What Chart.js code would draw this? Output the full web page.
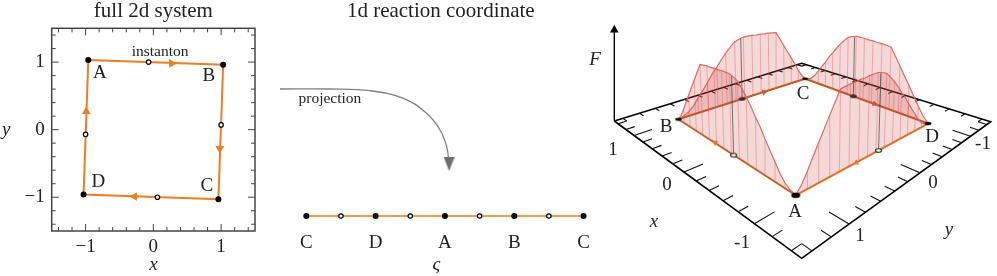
<!DOCTYPE html>
<html>
<head>
<meta charset="utf-8">
<title>Instanton projection</title>
<style>
  html, body { margin: 0; padding: 0; background: #fff; }
  canvas { position: absolute; top: 0; }
</style>
<script src="https://cdn.jsdelivr.net/npm/chart.js@4"></script>
</head>
<body>
<canvas id="fullSystem" width="270" height="276" style="left:0"></canvas>
<canvas id="reaction" width="340" height="276" style="left:270px"></canvas>
<canvas id="surface" width="417" height="276" style="left:580px"></canvas>
<script>
// Stationary points of the 2d system, in order along the instanton
const cornerNames = ['A', 'B', 'C', 'D'];
const cornerX = [-0.96, 1.03, 0.96, -1.03];
const cornerY = [1.03, 0.96, -1.03, -0.96];

// Saddle points (open circles)
const saddleX = [-0.07, 1.0, 0.06, -1.0];
const saddleY = [1.0, 0.07, -1.0, -0.07];

// Direction arrows on the path
const arrowX = [0.27, 0.98, -0.28, -0.99];
const arrowY = [0.98, -0.28, -0.99, 0.27];
const arrowAngle = [90, 180, 270, 0];

// Axis ticks
const majorTicks = [-1, 0, 1];
const minorTicks = [-1.4, -1.2, -0.8, -0.6, -0.4, -0.2, 0.2, 0.4, 0.6, 0.8, 1.2, 1.4];

// 1d reaction coordinate
const reactionLabels = ['C', 'D', 'A', 'B', 'C'];
const reactionStates = [0, 2, 4, 6, 8];
const reactionSaddles = [1, 3, 5, 7];

// Projection arrow (coordinate, height above the line)
const projectionS = [-0.76, 0.68, 1.84, 2.8, 3.47, 3.86, 4.05, 4.12];
const projectionH = [127, 127, 125.3, 117.7, 102.7, 86, 69.3, 52];

// Free energy barrier along one edge of the path
const barrierT = [0, 0.033, 0.067, 0.1, 0.133, 0.167, 0.2, 0.233, 0.267, 0.3, 0.333, 0.367, 0.4, 0.433, 0.467, 0.5,
  0.533, 0.567, 0.6, 0.633, 0.667, 0.7, 0.733, 0.767, 0.8, 0.833, 0.867, 0.9, 0.933, 0.967, 1];
const barrierF = [0, 0.02, 0.06, 0.13, 0.23, 0.33, 0.43, 0.54, 0.63, 0.73, 0.82, 0.9, 0.97, 1.0, 1.02, 1.02,
  1.02, 1.01, 1.01, 1.0, 1.0, 0.99, 0.98, 0.85, 0.72, 0.59, 0.46, 0.33, 0.2, 0.08, 0];

const ORANGE = '#f37b20';
const SERIF = '"Liberation Serif", serif';
Chart.defaults.font.family = SERIF;
Chart.defaults.color = '#222';

const baseOptions = {
  responsive: false,
  animation: false,
  events: [],
  plugins: { legend: { display: false }, tooltip: { enabled: false } }
};

// Text placed in data coordinates of the chart's own scales
function textPlugin(items) {
  return {
    id: 'textMarks',
    afterDatasetsDraw(chart) {
      const ctx = chart.ctx;
      ctx.save();
      ctx.textAlign = 'center';
      ctx.textBaseline = 'middle';
      ctx.fillStyle = '#222';
      items.forEach(item => {
        ctx.font = (item.italic ? 'italic ' : '') + item.size + 'px ' + SERIF;
        ctx.fillText(item.text, chart.scales.x.getPixelForValue(item.x), chart.scales.y.getPixelForValue(item.y));
      });
      ctx.restore();
    }
  };
}

// Frame with inward ticks on all four sides
const framePlugin = {
  id: 'frame',
  afterDatasetsDraw(chart) {
    const { ctx, chartArea: a, scales } = chart;
    ctx.save();
    ctx.strokeStyle = '#444';
    ctx.lineWidth = 1;
    const drawTicks = (values, len) => {
      values.forEach(v => {
        const px = scales.x.getPixelForValue(v);
        const py = scales.y.getPixelForValue(v);
        ctx.beginPath();
        ctx.moveTo(px, a.bottom); ctx.lineTo(px, a.bottom - len);
        ctx.moveTo(px, a.top); ctx.lineTo(px, a.top + len);
        ctx.moveTo(a.left, py); ctx.lineTo(a.left + len, py);
        ctx.moveTo(a.right, py); ctx.lineTo(a.right - len, py);
        ctx.stroke();
      });
    };
    drawTicks(minorTicks, 4);
    drawTicks(majorTicks, 7);
    ctx.lineWidth = 1.5;
    ctx.strokeRect(a.left, a.top, a.right - a.left, a.bottom - a.top);
    ctx.restore();
  }
};

function fixTicks(scale) {
  scale.ticks = majorTicks.map(v => ({ value: v }));
}

function pairs(xs, ys) {
  return xs.map((x, i) => ({ x: x, y: ys[i] }));
}

// Left panel: full 2d system
new Chart(document.getElementById('fullSystem'), {
  type: 'scatter',
  data: {
    datasets: [
      { data: pairs(cornerX, cornerY), order: 1, pointRadius: 3, pointBackgroundColor: '#000', pointBorderWidth: 0 },
      { data: pairs(saddleX, saddleY), order: 2, pointRadius: 2.2, pointBackgroundColor: '#fff', pointBorderColor: '#000', pointBorderWidth: 1.2 },
      { data: pairs(arrowX, arrowY), order: 3, pointStyle: 'triangle', pointRadius: 5, pointRotation: arrowAngle, pointBackgroundColor: ORANGE, pointBorderWidth: 0 },
      { data: pairs(cornerX.concat(cornerX[0]), cornerY.concat(cornerY[0])), order: 4, showLine: true, borderColor: ORANGE, borderWidth: 2, pointRadius: 0 }
    ]
  },
  options: {
    ...baseOptions,
    layout: { autoPadding: false, padding: { top: 28.3, right: 15 } },
    scales: {
      x: {
        min: -1.5, max: 1.5,
        grid: { display: false, drawTicks: false },
        border: { display: false },
        afterBuildTicks: fixTicks,
        afterFit(scale) { scale.height = 45; },
        ticks: { autoSkip: false, maxRotation: 0, padding: 5, font: { size: 19 }, color: '#222', callback: v => String(v).replace('-', '\u2212') },
        title: { display: true, text: 'x', font: { size: 19, style: 'italic' }, color: '#222', padding: 0 }
      },
      y: {
        min: -1.5, max: 1.5,
        grid: { display: false, drawTicks: false },
        border: { display: false },
        afterBuildTicks: fixTicks,
        afterFit(scale) { scale.width = 51.7; },
        ticks: { autoSkip: false, padding: 7, font: { size: 19 }, color: '#222', callback: v => String(v).replace('-', '\u2212') }
      }
    }
  },
  plugins: [framePlugin, textPlugin([
    { text: 'full 2d system', x: 0, y: 1.756, size: 21 },
    { text: cornerNames[0], x: -0.79, y: 0.84, size: 19 },
    { text: cornerNames[1], x: 0.82, y: 0.79, size: 19 },
    { text: cornerNames[2], x: 0.79, y: -0.84, size: 19 },
    { text: cornerNames[3], x: -0.81, y: -0.77, size: 19 },
    { text: 'instanton', x: 0.1, y: 1.15, size: 15.5 },
    { text: 'y', x: -2.17, y: 0, size: 19, italic: true }
  ])]
});

// Middle panel: 1d reaction coordinate
function arrowHeadSprite(width, height, fill) {
  const c = document.createElement('canvas');
  c.width = width;
  c.height = height;
  const g = c.getContext('2d');
  g.beginPath();
  g.moveTo(0, 0);
  g.lineTo(width, 0);
  g.lineTo(width / 2, height);
  g.closePath();
  g.fillStyle = fill;
  g.fill();
  return c;
}

new Chart(document.getElementById('reaction'), {
  type: 'scatter',
  data: {
    datasets: [
      { data: reactionStates.map(s => ({ x: s, y: 0 })), order: 1, pointRadius: 3, pointBackgroundColor: '#000', pointBorderWidth: 0 },
      { data: reactionSaddles.map(s => ({ x: s, y: 0 })), order: 2, pointRadius: 2.2, pointBackgroundColor: '#fff', pointBorderColor: '#000', pointBorderWidth: 1.2 },
      { data: reactionStates.map(s => ({ x: s, y: 0 })), order: 3, showLine: true, borderColor: '#f89a4c', borderWidth: 2, pointRadius: 0 },
      { data: pairs(projectionS, projectionH).slice(-1), order: 4, pointStyle: arrowHeadSprite(11, 14, '#6e6e6e') },
      { data: pairs(projectionS, projectionH), order: 5, showLine: true, tension: 0.4, borderColor: '#808080', borderWidth: 1.3, pointRadius: 0 }
    ]
  },
  options: {
    ...baseOptions,
    layout: { autoPadding: false, padding: { top: 28, left: 1.66, right: 9.1 } },
    scales: {
      x: {
        min: -1, max: 8.5,
        grid: { display: false, drawTicks: false },
        border: { display: false },
        afterBuildTicks(scale) { scale.ticks = reactionStates.map(v => ({ value: v })); },
        afterFit(scale) { scale.height = 48; scale.paddingLeft = 0; scale.paddingRight = 0; },
        ticks: { autoSkip: false, maxRotation: 0, padding: 4, font: { size: 19 }, color: '#222', callback: v => reactionLabels[reactionStates.indexOf(v)] },
        title: { display: true, text: '\u03C2', font: { size: 19, style: 'italic' }, color: '#222', padding: 0 }
      },
      y: { min: -12, max: 188, display: false }
    }
  },
  plugins: [textPlugin([
    { text: '1d reaction coordinate', x: 3.88, y: 205, size: 21 },
    { text: 'projection', x: 0.68, y: 117, size: 15.5 }
  ])]
});

// Right panel: free energy surface over the floor, seen in perspective
const floorQuad = [[614.3, 121], [801.7, 258.3], [990.7, 121.7], [801.7, 63.3]];

function buildHomography(q) {
  const dx1 = q[1][0] - q[2][0], dx2 = q[3][0] - q[2][0], sx = q[0][0] - q[1][0] + q[2][0] - q[3][0];
  const dy1 = q[1][1] - q[2][1], dy2 = q[3][1] - q[2][1], sy = q[0][1] - q[1][1] + q[2][1] - q[3][1];
  const det = dx1 * dy2 - dx2 * dy1;
  const g = (sx * dy2 - dx2 * sy) / det;
  const h = (dx1 * sy - sx * dy1) / det;
  return {
    a: q[1][0] - q[0][0] + g * q[1][0], b: q[3][0] - q[0][0] + h * q[3][0], c: q[0][0],
    d: q[1][1] - q[0][1] + g * q[1][1], e: q[3][1] - q[0][1] + h * q[3][1], f: q[0][1],
    g: g, h: h
  };
}
const H = buildHomography(floorQuad);

function project(x, y, F) {
  const s = (1.5 - x) / 3, t = (1.5 - y) / 3;
  const w = H.g * s + H.h * t + 1;
  const u = (H.a * s + H.b * t + H.c) / w;
  const v = (H.d * s + H.e * t + H.f) / w;
  const rise = (F || 0) * (60 + (v - 98.7) / 3);
  return { x: u + (u - 802) * rise / 2567, y: v - rise };
}

function ellipseSprite(rx, ry, fill) {
  const c = document.createElement('canvas');
  c.width = Math.ceil(2 * rx + 3);
  c.height = Math.ceil(2 * ry + 3);
  const g = c.getContext('2d');
  g.beginPath();
  g.ellipse(c.width / 2, c.height / 2, rx, ry, 0, 0, Math.PI * 2);
  g.fillStyle = fill;
  g.fill();
  if (fill !== '#000') {
    g.strokeStyle = '#222';
    g.lineWidth = 1.1;
    g.stroke();
  }
  return c;
}

const gap = { x: NaN, y: NaN };
const surfaceSets = [];
function addSet(set) { surfaceSets.push({ showLine: true, pointRadius: 0, borderWidth: 1, ...set }); }

// floor frame and ticks
const framePts = [project(1.5, 1.5), project(-1.5, 1.5), project(-1.5, -1.5), project(1.5, -1.5), project(1.5, 1.5)];
const tickPts = [];
function pushTick(a, b) { tickPts.push(a, b, gap); }
majorTicks.concat(minorTicks).forEach(v => {
  const near = majorTicks.includes(v) ? 0.2 : 0.1;
  pushTick(project(v, 1.5), project(v, 1.5 - near));
  pushTick(project(-1.5, v), project(-1.5 + near, v));
  pushTick(project(v, -1.5), project(v, -1.4));
  pushTick(project(1.5, v), project(1.4, v));
});
addSet({ data: framePts, borderColor: '#000', borderWidth: 1.6 });
addSet({ data: tickPts, borderColor: '#111', borderWidth: 1.1 });

// instanton path on the floor, darker on the far edges
const edgeColors = ['#c9641c', '#c0601e', '#c0601e', '#e0761f'];
cornerX.forEach((x, i) => {
  const j = (i + 1) % 4;
  addSet({ data: [project(x, cornerY[i]), project(cornerX[j], cornerY[j])], borderColor: edgeColors[i], borderWidth: 2 });
});

// arrows on the floor path, turned along the edge
const floorArrows = pairs(arrowX, arrowY).map(p => project(p.x, p.y));
const arrowTurn = cornerX.map((x, i) => {
  const from = project(x, cornerY[i]);
  const to = project(cornerX[(i + 1) % 4], cornerY[(i + 1) % 4]);
  return Math.atan2(to.x - from.x, from.y - to.y) * 180 / Math.PI;
});
surfaceSets.push({ data: floorArrows, pointStyle: 'triangle', pointRadius: 3.5, pointRotation: arrowTurn, pointBackgroundColor: ['#f37b20', '#c8641e', '#c8641e', '#f37b20'], pointBorderWidth: 0 });

// one barrier curtain per edge, far edges first
[1, 2, 0, 3].forEach(i => {
  const j = (i + 1) % 4;
  const onEdge = t => [cornerX[i] + (cornerX[j] - cornerX[i]) * t, cornerY[i] + (cornerY[j] - cornerY[i]) * t];
  const top = barrierT.map((t, k) => project(...onEdge(t), barrierF[k]));
  const base = barrierT.map(t => project(...onEdge(t)));
  const stripes = [];
  barrierT.forEach((t, k) => {
    if (k % 2 === 0 && k > 0 && k < barrierT.length - 1) stripes.push(base[k], top[k], gap);
  });
  addSet({ data: top.concat(base.slice().reverse()), fill: 'shape', backgroundColor: 'rgba(205, 60, 60, 0.2)', borderWidth: 0 });
  addSet({ data: stripes, borderColor: 'rgba(216, 92, 92, 0.4)', borderWidth: 1 });
  addSet({ data: top, borderColor: 'rgba(224, 98, 92, 0.95)', borderWidth: 1.2 });
  const saddleBase = project(saddleX[i], saddleY[i]);
  const saddleTop = project(saddleX[i], saddleY[i], 1);
  addSet({ data: [saddleBase, saddleTop], borderColor: 'rgba(50, 50, 50, 0.65)', borderWidth: 1 });
});

// saddle and corner markers on top
const saddleSprites = [ellipseSprite(3, 1.8, '#fff'), ellipseSprite(2.8, 1.2, '#444'), ellipseSprite(2.8, 1.2, '#444'), ellipseSprite(3, 1.8, '#fff')];
const cornerSprites = [ellipseSprite(4.5, 2.8, '#000'), ellipseSprite(3.2, 1.5, '#000'), ellipseSprite(3, 1.3, '#000'), ellipseSprite(3.3, 1.7, '#000')];
surfaceSets.push({ data: pairs(saddleX, saddleY).map(p => project(p.x, p.y)), pointStyle: saddleSprites });
surfaceSets.push({ data: pairs(cornerX, cornerY).map(p => project(p.x, p.y)), pointStyle: cornerSprites });

// vertical F axis
const axisBase = project(1.5, 1.5);
addSet({ data: [axisBase, { x: axisBase.x, y: 30 }], borderColor: '#000', borderWidth: 1.4 });
surfaceSets.push({ data: [{ x: axisBase.x, y: 30 }], pointStyle: 'triangle', pointRadius: 5, pointBackgroundColor: '#000', pointBorderWidth: 0 });

// Chart.js paints higher order first
surfaceSets.forEach((set, i) => { set.order = surfaceSets.length - i; });

new Chart(document.getElementById('surface'), {
  type: 'scatter',
  data: { datasets: surfaceSets },
  options: {
    ...baseOptions,
    layout: { autoPadding: false },
    scales: {
      x: { min: 580, max: 997, display: false },
      y: { min: 0, max: 276, reverse: true, display: false }
    }
  },
  plugins: [textPlugin([
    { text: 'F', x: 595, y: 60, size: 19, italic: true },
    { text: cornerNames[0], x: 795, y: 212, size: 19 },
    { text: cornerNames[1], x: 666, y: 127, size: 19 },
    { text: cornerNames[2], x: 803, y: 94, size: 19 },
    { text: cornerNames[3], x: 932, y: 137, size: 19 },
    { text: '1', x: 613, y: 150, size: 19 },
    { text: '0', x: 667, y: 185, size: 19 },
    { text: '-1', x: 742, y: 243, size: 19 },
    { text: '1', x: 860, y: 236, size: 19 },
    { text: '0', x: 933, y: 183, size: 19 },
    { text: '-1', x: 983, y: 144, size: 19 },
    { text: 'x', x: 654, y: 222, size: 19, italic: true },
    { text: 'y', x: 949, y: 230, size: 19, italic: true }
  ])]
});
</script>
</body>
</html>
